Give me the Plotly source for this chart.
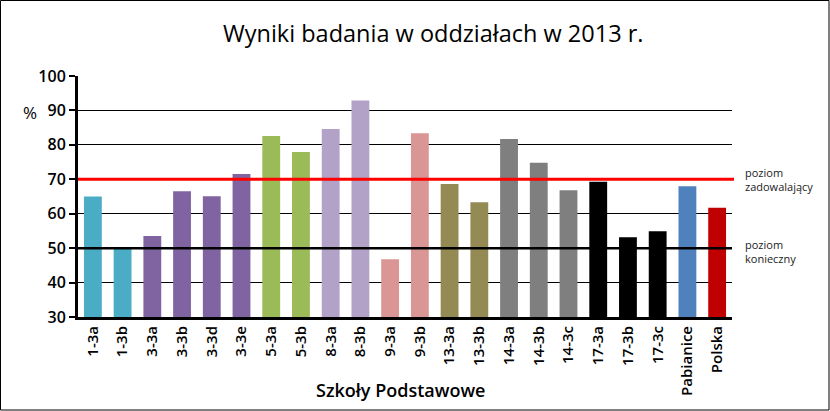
import plotly.graph_objects as go

categories = ["1-3a", "1-3b", "3-3a", "3-3b", "3-3d", "3-3e", "5-3a", "5-3b",
              "8-3a", "8-3b", "9-3a", "9-3b", "13-3a", "13-3b", "14-3a", "14-3b",
              "14-3c", "17-3a", "17-3b", "17-3c", "Pabianice", "Polska"]
values = [65.0, 50.0, 53.5, 66.5, 65.1, 71.5, 82.6, 77.9,
          84.6, 92.9, 46.8, 83.4, 68.6, 63.3, 81.7, 74.8,
          66.8, 69.3, 53.2, 54.9, 68.0, 61.7]
colors = ["#4BACC6", "#4BACC6", "#8064A2", "#8064A2", "#8064A2", "#8064A2",
          "#9BBB59", "#9BBB59", "#B3A2C7", "#B3A2C7", "#D99694", "#D99694",
          "#948A54", "#948A54", "#7F7F7F", "#7F7F7F", "#7F7F7F",
          "#000000", "#000000", "#000000", "#4F81BD", "#C00000"]
level_satisfying = 70
level_required = 50
y_ticks = [30, 40, 50, 60, 70, 80, 90, 100]

W, H = 830, 411
ml, mr, mt, mb = 78, 98, 76, 94
pw, ph = W - ml - mr, H - mt - mb

FONT = "Open Sans, sans-serif"

fig = go.Figure()
fig.add_trace(go.Bar(x=categories, y=values, marker=dict(color=colors, line=dict(width=0)),
                     width=0.6, showlegend=False))

def px_x(px):
    return (px - ml) / pw

def px_y(py):
    return (H - mb - py) / ph

shapes = [
    dict(type="line", xref="paper", yref="y", x0=0, x1=px_x(734), y0=level_satisfying,
         y1=level_satisfying, line=dict(color="#FF0000", width=3), layer="above"),
    dict(type="line", xref="paper", yref="y", x0=0, x1=1, y0=level_required,
         y1=level_required, line=dict(color="#000000", width=2.5), layer="above"),
    dict(type="rect", xref="paper", yref="paper", x0=px_x(0.5), x1=px_x(829), y0=px_y(410),
         y1=px_y(0.5), line=dict(color="#000000", width=1), fillcolor="rgba(0,0,0,0)"),
]

annotations = [
    dict(text="Wyniki badania w oddziałach w 2013 r.", xref="paper", yref="paper",
         x=px_x(433), y=px_y(33), xanchor="center", yanchor="middle", showarrow=False,
         font=dict(size=23.5, color="#000", family=FONT)),
    dict(text="%", xref="paper", yref="paper", x=px_x(30), y=px_y(112), xanchor="center",
         yanchor="middle", showarrow=False,
         font=dict(size=17, color="#000", family=FONT)),
    dict(text="Szkoły Podstawowe", xref="paper", yref="paper", x=px_x(400), y=px_y(390),
         xanchor="center", yanchor="middle",
         showarrow=False, font=dict(size=18, color="#000", family=FONT, weight=600)),
    dict(text="poziom<br>zadowalający", xref="paper", yref="y", x=px_x(743), y=level_satisfying,
         xanchor="left", yanchor="middle", align="left", showarrow=False,
         font=dict(size=11, color="#222", family=FONT)),
    dict(text="poziom<br>konieczny", xref="paper", yref="y", x=px_x(743), y=level_required - 1,
         xanchor="left", yanchor="middle", align="left", showarrow=False,
         font=dict(size=11, color="#222", family=FONT)),
]

fig.update_layout(
    width=W, height=H,
    margin=dict(l=ml, r=mr, t=mt, b=mb),
    paper_bgcolor="white", plot_bgcolor="white",
    bargap=0.4,
    shapes=shapes, annotations=annotations,
    font=dict(family=FONT, color="#000"),
    xaxis=dict(showline=True, linecolor="#000", linewidth=3, tickangle=-90,
               tickfont=dict(size=15, color="#000", family=FONT, weight=600), showgrid=False,
               ticks="", range=[-0.5, len(categories) - 0.5]),
    yaxis=dict(range=[30, 100], tickvals=y_ticks, showline=True, linecolor="#000", linewidth=3,
               showgrid=True, gridcolor="#000", gridwidth=1, ticks="outside", ticklen=6,
               tickcolor="#000", tickwidth=2,
               tickfont=dict(size=16, color="#000", family=FONT, weight=600),
               zeroline=False),
)

fig.write_html("out.html")
